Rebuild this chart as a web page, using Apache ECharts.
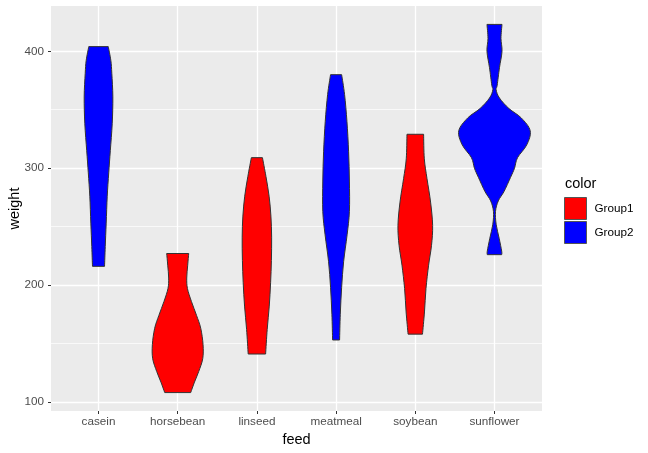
<!doctype html>
<html lang="en" style="height: 100%">

<head>
  <meta charset="utf-8" />
  <script type="text/javascript" src="https://fastly.jsdelivr.net/npm/echarts@6.0.0/dist/echarts.min.js"></script>
</head>

<body style="height: 100%; margin: 0">
  <div id="main" style="width: 648px; height: 453px"></div>
  <script type="text/javascript">
    // feeds on the x axis
    var feeds = ['casein', 'horsebean', 'linseed', 'meatmeal', 'soybean', 'sunflower'];
    var group1Feeds = [1, 2, 4];
    var group2Feeds = [0, 3, 5];
    var yTicks = [100, 200, 300, 400];
    var yMinor = [150, 250, 350];

    // violin outlines: [weight, half width in category units]
    var caseinProfile = [[404, 0.123], [392, 0.156], [381, 0.168], [361, 0.181], [338, 0.173], [315, 0.149],
      [296, 0.129], [276, 0.110], [253, 0.097], [233, 0.085], [216, 0.076]];
    var horsebeanProfile = [[227, 0.139], [217, 0.126], [206, 0.114], [197, 0.123], [186, 0.173], [174, 0.238],
      [163, 0.291], [149, 0.320], [137, 0.316], [126, 0.265], [117, 0.212], [108, 0.164]];
    var linseedProfile = [[309, 0.070], [293, 0.114], [276, 0.154], [259, 0.177], [241, 0.186], [221, 0.183],
      [202, 0.173], [182, 0.156], [162, 0.130], [141, 0.110]];
    var meatmealProfile = [[380, 0.070], [363, 0.107], [340, 0.137], [314, 0.158], [289, 0.168], [263, 0.168],
      [243, 0.139], [220, 0.095], [198, 0.070], [175, 0.053], [153, 0.044]];
    var soybeanProfile = [[329, 0.105], [308, 0.114], [291, 0.148], [271, 0.193], [251, 0.219], [234, 0.205],
      [217, 0.168], [197, 0.135], [177, 0.116], [158, 0.091]];
    var sunflowerProfile = [[423, 0.095], [411, 0.082], [400, 0.095], [386, 0.063], [371, 0.034], [367, 0.021],
      [360, 0.063], [351, 0.183], [343, 0.338], [332, 0.451], [320, 0.408], [309, 0.291], [300, 0.253],
      [292, 0.202], [280, 0.120], [272, 0.048], [263, 0.013], [252, 0.021], [240, 0.059], [229, 0.091], [226, 0.091]];

    var profiles = [caseinProfile, horsebeanProfile, linseedProfile, meatmealProfile, soybeanProfile, sunflowerProfile];

    var chartDom = document.getElementById('main');
    var myChart = echarts.init(chartDom);
    var option;

    var FONT = 'Liberation Sans, Arial, sans-serif';

    // catmull-rom through pts, appended as bezier segments (assumes already at pts[0])
    function spline(pts) {
      var s = '';
      for (var i = 0; i < pts.length - 1; i++) {
        var p0 = pts[i - 1] || pts[i];
        var p1 = pts[i];
        var p2 = pts[i + 1];
        var p3 = pts[i + 2] || p2;
        var c1x = p1[0] + (p2[0] - p0[0]) / 6, c1y = p1[1] + (p2[1] - p0[1]) / 6;
        var c2x = p2[0] - (p3[0] - p1[0]) / 6, c2y = p2[1] - (p3[1] - p1[1]) / 6;
        s += ' C' + c1x + ',' + c1y + ' ' + c2x + ',' + c2y + ' ' + p2[0] + ',' + p2[1];
      }
      return s;
    }

    function renderViolin(params, api) {
      var cat = api.value(0);
      var prof = profiles[cat];
      var right = prof.map(function (d) { return api.coord([cat + d[1], d[0]]); });
      var left = prof.map(function (d) { return api.coord([cat - d[1], d[0]]); }).reverse();
      var path = 'M' + left[left.length - 1][0] + ',' + left[left.length - 1][1] +
        ' L' + right[0][0] + ',' + right[0][1] + spline(right) +
        ' L' + left[0][0] + ',' + left[0][1] + spline(left) + ' Z';
      return {
        type: 'path',
        shape: { pathData: path },
        style: { fill: api.visual('color'), stroke: '#333333', lineWidth: 1 }
      };
    }

    option = {
      animation: false,
      title: {
        text: 'color',
        left: 560,
        top: 171,
        textStyle: { fontFamily: FONT, fontSize: 14.5, fontWeight: 'normal', color: '#000' }
      },
      legend: {
        orient: 'vertical',
        left: 559,
        top: 192,
        itemWidth: 22,
        itemHeight: 22,
        itemGap: 1,
        icon: 'rect',
        textStyle: { fontFamily: FONT, fontSize: 11.7, color: '#000', padding: [0, 0, 0, 3] },
        data: [
          { name: 'Group1', itemStyle: { borderColor: '#555', borderWidth: 1 } },
          { name: 'Group2', itemStyle: { borderColor: '#555', borderWidth: 1 } }
        ]
      },
      grid: {
        left: 51,
        right: 106,
        top: 6,
        bottom: 42,
        outerBoundsMode: 'none',
        show: true,
        backgroundColor: '#EBEBEB',
        borderWidth: 0
      },
      xAxis: {
        type: 'value',
        min: -0.6,
        max: 5.6,
        name: 'feed',
        nameLocation: 'middle',
        nameGap: 20,
        nameTextStyle: { fontFamily: FONT, fontSize: 14.5, color: '#000' },
        axisLine: { show: false, onZero: false },
        axisTick: { show: true, length: 3, customValues: [0, 1, 2, 3, 4, 5], lineStyle: { color: '#333', width: 1 } },
        axisLabel: {
          customValues: [0, 1, 2, 3, 4, 5],
          margin: 5,
          fontFamily: FONT, fontSize: 11.7, color: '#4D4D4D',
          formatter: function (v) { return feeds[Math.round(v)]; }
        },
        splitLine: { show: true, lineStyle: { color: '#FFFFFF', width: 1.3 } }
      },
      yAxis: {
        type: 'value',
        min: 92.25,
        max: 438.75,
        name: 'weight',
        nameLocation: 'middle',
        nameRotate: 90,
        nameGap: 29,
        nameMoveOverlap: false,
        nameTextStyle: { fontFamily: FONT, fontSize: 14.5, color: '#000' },
        axisLine: { show: false, onZero: false },
        axisTick: { show: true, length: 3, customValues: yTicks, lineStyle: { color: '#333', width: 1 } },
        axisLabel: {
          customValues: yTicks,
          margin: 7,
          fontFamily: FONT, fontSize: 11.7, color: '#4D4D4D'
        },
        splitLine: { show: true, lineStyle: { color: '#FFFFFF', width: 1.3 } }
      },
      series: [
        {
          // minor grid lines
          type: 'line',
          data: [],
          z: 1,
          markLine: {
            silent: true,
            z: 1,
            symbol: 'none',
            label: { show: false },
            lineStyle: { color: '#FFFFFF', width: 0.7, type: 'solid' },
            data: yMinor.map(function (v) { return { yAxis: v }; })
          }
        },
        {
          name: 'Group1',
          type: 'custom',
          z: 10,
          renderItem: renderViolin,
          itemStyle: { color: '#FF0000', borderColor: '#333', borderWidth: 1 },
          encode: { x: 0 },
          data: group1Feeds.map(function (i) { return [i]; })
        },
        {
          name: 'Group2',
          type: 'custom',
          z: 10,
          renderItem: renderViolin,
          itemStyle: { color: '#0000FF', borderColor: '#333', borderWidth: 1 },
          encode: { x: 0 },
          data: group2Feeds.map(function (i) { return [i]; })
        }
      ]
    };
    option && myChart.setOption(option);
  </script>
</body>

</html>
